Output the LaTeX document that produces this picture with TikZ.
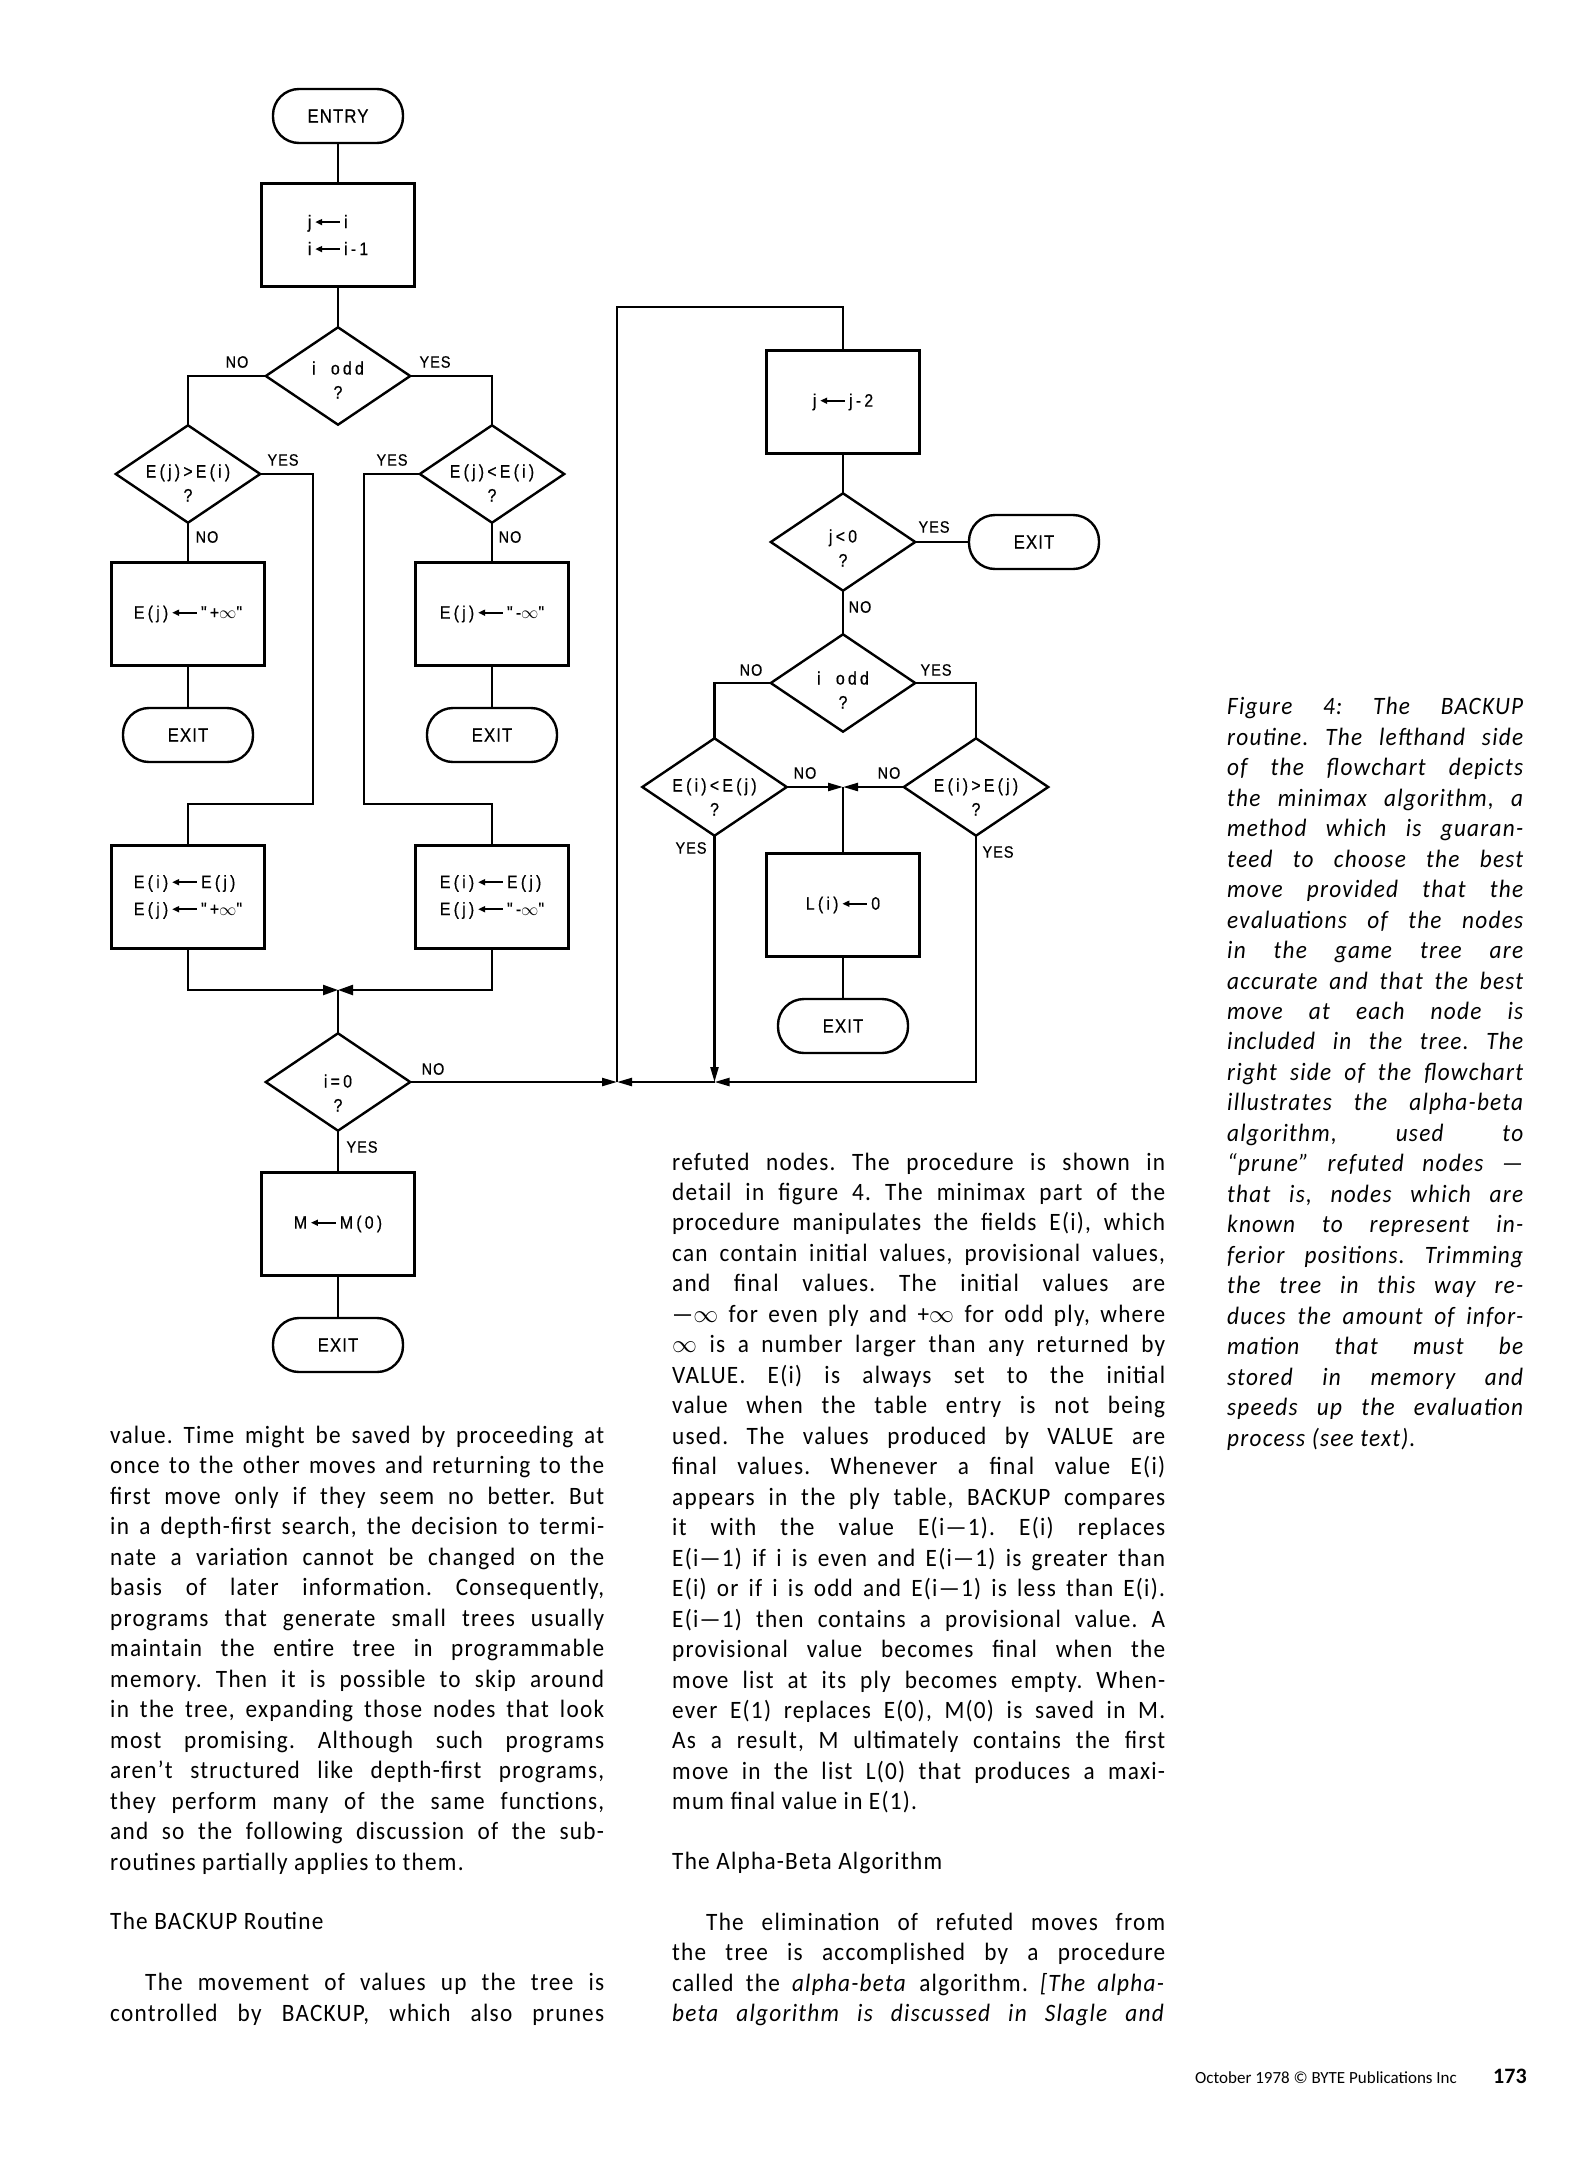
\documentclass[tikz,border=0pt]{standalone}
\usepackage{fontspec}
\setmainfont{Carlito}
\newfontfamily\bodyf[LetterSpace=5,FakeStretch=0.93]{Carlito}
\newfontfamily\capf[LetterSpace=5,FakeStretch=0.93]{Carlito}
\newfontfamily\fA[LetterSpace=6,FakeStretch=0.88,FakeBold=0.5]{Liberation Sans}
\newfontfamily\fB[LetterSpace=18,FakeStretch=0.88,FakeBold=0.5]{Liberation Sans}
\usetikzlibrary{arrows.meta}
\newcommand{\lar}{\,\tikz[baseline=-0.33em]\draw[line width=1.8pt,{Triangle[length=7pt,width=6pt]}-] (0pt,0pt) -- (25pt,0pt);\,}
\frenchspacing
\begin{document}
\begin{tikzpicture}[x=1pt,y=-1pt,
  ln/.style={line width=2.3pt},
  dline/.style={line width=2.4pt, line join=miter},
  box/.style={draw, line width=2.6pt, rectangle, minimum width=153pt, minimum height=103pt, inner sep=0pt, align=left, font=\fB\fontsize{18}{27}\selectfont},
  term/.style={draw, line width=2.4pt, rectangle, rounded corners=26pt, minimum width=130pt, minimum height=54pt, inner sep=0pt, font=\fA\fontsize{19}{22}\selectfont},
  dec/.style={rectangle, minimum width=144pt, minimum height=97pt, inner sep=0pt},
  dtxt/.style={align=center, inner sep=0pt, font=\fB\fontsize{18}{24}\selectfont},
  yn/.style={inner sep=0pt, font=\fA\fontsize{16.5}{18}\selectfont},
  arr/.style={ln, -{Triangle[length=15pt,width=10pt]}},
  arrb/.style={ln, -{Triangle[length=15pt,width=8pt]}},
  bl/.style={anchor=base west, inner sep=0pt, font=\bodyf\fontsize{25}{30}\selectfont},
  cl/.style={anchor=base west, inner sep=0pt, font=\capf\itshape\fontsize{25}{30}\selectfont}
]
\useasboundingbox (0,0) rectangle (1595,2160);
\fill[white] (0,0) rectangle (1595,2160);

% ---------- left flowchart ----------
\node[term] (entry) at (338,116) {ENTRY};
\node[box] (b1) at (338,235) {j\lar i\\i\lar i-1};
\node[dec] (d1) at (338,376) {};
\node[dtxt] (d1t) at (338,380) {i~~odd\\?};
\node[dec] (d2) at (188,474) {};
\node[dtxt] (d2t) at (188,483) {E(j)>E(i)\\?};
\node[dec] (d3) at (492,474) {};
\node[dtxt] (d3t) at (492,483) {E(j)<E(i)\\?};
\node[box] (b2) at (188,614) {E(j)\lar"+$\infty$"};
\node[box] (b3) at (492,614) {E(j)\lar"-$\infty$"};
\node[term] (x1) at (188,735) {EXIT};
\node[term] (x2) at (492,735) {EXIT};
\node[box] (b4) at (188,897) {E(i)\lar E(j)\\E(j)\lar"+$\infty$"};
\node[box] (b5) at (492,897) {E(i)\lar E(j)\\E(j)\lar"-$\infty$"};
\node[dec] (d4) at (338,1082) {};
\node[dtxt] (d4t) at (338,1093) {i=0\\?};
\node[box] (b6) at (338,1224) {M\lar M(0)};
\node[term] (x3) at (338,1345) {EXIT};

\node[yn] (n1) at (237,362) {NO};
\node[yn] (n2) at (435,362) {YES};
\node[yn] (n3) at (283,460) {YES};
\node[yn] (n4) at (207,537) {NO};
\node[yn] (n5) at (392,460) {YES};
\node[yn] (n6) at (510,537) {NO};
\node[yn] (n7) at (433,1069) {NO};
\node[yn] (n8) at (362,1147) {YES};

% ---------- right flowchart ----------
\node[box] (b7) at (843,402) {j\lar j-2};
\node[dec] (d5) at (843,542) {};
\node[dtxt] (d5t) at (843,548) {j<0\\?};
\node[term] (x4) at (1034,542) {EXIT};
\node[dec] (d6) at (843,683) {};
\node[dtxt] (d6t) at (843,690) {i~~odd\\?};
\node[dec] (d7) at (714.5,787) {};
\node[dtxt] (d7t) at (714.5,797) {E(i)<E(j)\\?};
\node[dec] (d8) at (976,787) {};
\node[dtxt] (d8t) at (976,797) {E(i)>E(j)\\?};
\node[box] (b8) at (843,905) {L(i)\lar 0};
\node[term] (x5) at (843,1026) {EXIT};

\node[yn] (n9) at (934,527) {YES};
\node[yn] (n10) at (860,607) {NO};
\node[yn] (n11) at (751,670) {NO};
\node[yn] (n12) at (936,670) {YES};
\node[yn] (n13) at (805,773) {NO};
\node[yn] (n14) at (889,773) {NO};
\node[yn] (n15) at (691,848) {YES};
\node[yn] (n16) at (998,852) {YES};

% diamonds
\foreach \i in {1,...,8}
  \draw[dline] (d\i.north) -- (d\i.east) -- (d\i.south) -- (d\i.west) -- cycle;

% ---------- connectors ----------
\draw[ln] (entry) -- (b1);
\draw[ln] (b1) -- (d1.north);
\draw[ln] (d1.west) -| (d2.north);
\draw[ln] (d1.east) -| (d3.north);
\draw[ln] (d2.south) -- (b2);
\draw[ln] (b2) -- (x1);
\draw[ln] (d3.south) -- (b3);
\draw[ln] (b3) -- (x2);
\coordinate (ya) at (313,804);
\coordinate (yb) at (364,804);
\draw[ln] (d2.east) -| (ya) -| (b4.north);
\draw[ln] (d3.west) -| (yb) -| (b5.north);
\coordinate (m1) at (338,990);
\draw[arr] (b4.south) |- (m1);
\draw[arr] (b5.south) |- (m1);
\draw[ln] (m1) -- (d4.north);
\draw[ln] (d4.south) -- (b6);
\draw[ln] (b6) -- (x3);

\coordinate (J) at (617,1082);
\coordinate (j2) at (714.5,1082);
\coordinate (lt) at (843,307);
\draw[arrb] (d4.east) -- (J);
\draw[ln] (J) |- (lt) -- (b7.north);
\draw[ln] (b7) -- (d5.north);
\draw[ln] (d5.east) -- (x4);
\draw[ln] (d5.south) -- (d6.north);
\draw[ln] (d6.west) -| (d7.north);
\draw[ln] (d6.east) -| (d8.north);
\coordinate (m2) at (843,787);
\draw[arrb] (d7.east) -- (m2);
\draw[arrb] (d8.west) -- (m2);
\draw[ln] (m2) -- (b8);
\draw[ln] (b8) -- (x5);
\draw[arrb] (d7.south) -- (j2);
\draw[arrb] (d8.south) |- (j2);
\draw[arrb] (j2) -- (J);

% ---------- caption ----------
\foreach \tx [count=\k from 0] in {
 {Figure 4: The BACKUP},
 {routine. The lefthand side},
 {of the flowchart depicts},
 {the minimax algorithm, a},
 {method which is guaran-},
 {teed to choose the best},
 {move provided that the},
 {evaluations of the nodes},
 {in the game tree are},
 {accurate and that the best},
 {move at each node is},
 {included in the tree. The},
 {right side of the flowchart},
 {illustrates the alpha-beta},
 {algorithm, used to},
 {“prune” refuted nodes —},
 {that is, nodes which are},
 {known to represent in-},
 {ferior positions. Trimming},
 {the tree in this way re-},
 {duces the amount of infor-},
 {mation that must be},
 {stored in memory and},
 {speeds up the evaluation}}
 {\node[cl] (c\k) at (1227,714.8+30.47*\k) {\makebox[296pt][s]{\tx}};}
\node[cl] (c24) at (1227,1446.1) {process (see text).};

% ---------- left text column ----------
\foreach \tx [count=\k from 0] in {
 {value. Time might be saved by proceeding at},
 {once to the other moves and returning to the},
 {first move only if they seem no better. But},
 {in a depth-first search, the decision to termi-},
 {nate a variation cannot be changed on the},
 {basis of later information. Consequently,},
 {programs that generate small trees usually},
 {maintain the entire tree in programmable},
 {memory. Then it is possible to skip around},
 {in the tree, expanding those nodes that look},
 {most promising. Although such programs},
 {aren’t structured like depth-first programs,},
 {they perform many of the same functions,},
 {and so the following discussion of the sub-}}
 {\node[bl] (la\k) at (110,1443+30.5*\k) {\makebox[494pt][s]{\tx}};}
\node[bl] (la14) at (110,1870) {routines partially applies to them.};
\node[bl] (lh) at (110,1929.5) {The BACKUP Routine};
\node[bl] (lp1) at (145,1990.5) {\makebox[459pt][s]{The movement of values up the tree is}};
\node[bl] (lp2) at (110,2021) {\makebox[494pt][s]{controlled by BACKUP, which also prunes}};

% ---------- right text column ----------
\foreach \tx [count=\k from 0] in {
 {refuted nodes. The procedure is shown in},
 {detail in figure 4. The minimax part of the},
 {procedure manipulates the fields E(i), which},
 {can contain initial values, provisional values,},
 {and final values. The initial values are},
 {—$\infty$ for even ply and +$\infty$ for odd ply, where},
 {$\infty$ is a number larger than any returned by},
 {VALUE. E(i) is always set to the initial},
 {value when the table entry is not being},
 {used. The values produced by VALUE are},
 {final values. Whenever a final value E(i)},
 {appears in the ply table, BACKUP compares},
 {it with the value E(i—1). E(i) replaces},
 {E(i—1) if i is even and E(i—1) is greater than},
 {E(i) or if i is odd and E(i—1) is less than E(i).},
 {E(i—1) then contains a provisional value. A},
 {provisional value becomes final when the},
 {move list at its ply becomes empty. When-},
 {ever E(1) replaces E(0), M(0) is saved in M.},
 {As a result, M ultimately contains the first},
 {move in the list L(0) that produces a maxi-}}
 {\node[bl] (ra\k) at (672,1170+30.47*\k) {\makebox[493pt][s]{\tx}};}
\node[bl] (ra21) at (672,1809.9) {mum final value in E(1).};
\node[bl] (rh) at (672,1869) {The Alpha-Beta Algorithm};
\node[bl] (rp1) at (706,1930) {\makebox[459pt][s]{The elimination of refuted moves from}};
\node[bl] (rp2) at (672,1960.5) {\makebox[493pt][s]{the tree is accomplished by a procedure}};
\node[bl] (rp3) at (672,1991) {\makebox[493pt][s]{called the \textit{alpha-beta} algorithm. \textit{[The alpha-}}};
\node[bl] (rp4) at (672,2021.5) {\makebox[493pt][s]{\textit{beta algorithm is discussed in Slagle and}}};

% ---------- footer ----------
\node[anchor=base west, inner sep=0pt, font=\fontsize{17}{20}\selectfont] (foot) at (1195,2083) {October 1978 © BYTE Publications Inc};
\node[anchor=base west, inner sep=0pt, font=\bfseries\fontsize{22}{26}\selectfont] (pg) at (1493,2083) {173};
\end{tikzpicture}
\end{document}
